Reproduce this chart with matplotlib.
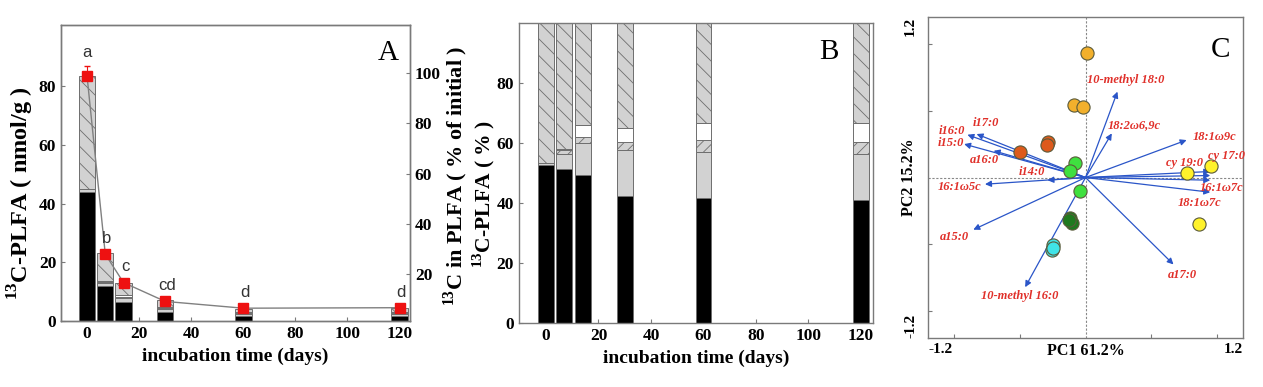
"""
13C-PLFA figure: (A) amount over incubation, (B) relative composition,
(C) PCA biplot of labelled PLFAs.
"""

import numpy as np
import matplotlib
matplotlib.use("Agg")
import matplotlib.pyplot as plt

plt.rcParams["font.family"] = ["Liberation Serif", "DejaVu Serif"]
plt.rcParams["mathtext.fontset"] = "custom"
plt.rcParams["mathtext.rm"] = "Liberation Serif"
plt.rcParams["mathtext.bf"] = "Liberation Serif:bold"
plt.rcParams["hatch.linewidth"] = 0.6

# ---- data ---------------------------------------------------------------
DAYS = [0, 7, 14, 30, 60, 120]

# panel A, nmol/g per group (bottom -> top)
a_black = [44.0, 11.8, 6.6, 3.0, 1.7, 1.8]
a_grey = [0.8, 1.2, 1.4, 1.1, 0.7, 0.7]
a_fwd = [0.0, 0.3, 0.3, 0.2, 0.2, 0.2]
a_white = [0.0, 0.2, 0.6, 0.4, 0.3, 0.3]
a_hatch = [38.7, 9.5, 4.1, 2.3, 1.2, 1.5]

# 13C in PLFA, % of initial (right axis)
pct_initial = [98.9, 28.0, 16.7, 9.2, 6.5, 6.7]
pct_err = [4.0, 0.8, 0.8, 0.6, 0.5, 0.5]
sig_letters = ["a", "b", "c", "cd", "d", "d"]

# panel B, % of 13C-PLFA
b_black = [52.6, 51.2, 49.4, 42.4, 41.6, 41.0]
b_grey = [0.6, 5.1, 10.7, 15.3, 15.5, 15.3]
b_fwd = [0.0, 1.2, 1.8, 2.7, 4.0, 3.9]
b_white = [0.0, 0.5, 4.1, 4.6, 5.6, 6.3]
b_hatch = [46.8, 42.0, 34.0, 35.0, 33.3, 33.5]

# panel C, PCA loadings
pc_names = ["10-methyl 18:0", "18:2\u03c96,9c", "18:1\u03c99c", "cy 17:0",
            "cy 19:0", "16:1\u03c97c", "18:1\u03c97c", "a17:0",
            "10-methyl 16:0", "a15:0", "16:1\u03c95c", "i14:0", "a16:0",
            "i15:0", "i16:0", "i17:0"]
pc1 = [0.243, 0.20, 0.77, 0.95, 0.95, 0.95, 0.95, 0.67,
       -0.46, -0.855, -0.766, -0.29, -0.70, -0.925, -0.90, -0.83]
pc2 = [0.642, 0.33, 0.28, 0.045, 0.015, -0.02, -0.11, -0.65,
       -0.82, -0.39, -0.05, -0.02, 0.20, 0.25, 0.32, 0.325]
lab_x = [0.01, 0.17, 0.82, 0.93, 0.61, 0.87, 0.70, 0.63,
         -0.80, -1.11, -1.13, -0.51, -0.88, -1.13, -1.12, -0.86]
lab_y = [0.73, 0.39, 0.30, 0.16, 0.11, -0.08, -0.19, -0.73,
         -0.885, -0.445, -0.07, 0.04, 0.13, 0.26, 0.35, 0.41]

# sample scores, by group
score_groups = {
    "#f2b02c": ([0.01, -0.09, -0.02], [0.93, 0.54, 0.525]),
    "#dd5a1c": ([-0.283, -0.296, -0.50], [0.268, 0.243, 0.193]),
    "#3fe03f": ([-0.08, -0.118, -0.042], [0.106, 0.051, -0.099]),
    "#1f7a1f": ([-0.118, -0.105, -0.125], [-0.305, -0.343, -0.32]),
    "#40e4e8": ([-0.245, -0.258, -0.25], [-0.505, -0.542, -0.525]),
    "#fff22a": ([0.954, 0.776, 0.865], [0.086, 0.036, -0.348]),
}

FRAME = "#7a7a7a"
EDGE = "#6e6e6e"
LIGHT = "#d2d2d2"


def style_frame(ax):
    for sp in ax.spines.values():
        sp.set_color(FRAME)
        sp.set_linewidth(1.0)
    ax.tick_params(direction="in", color=FRAME, length=3, width=0.8)


def stacked(ax, layers, width):
    bottom = np.zeros(len(DAYS))
    styles = [("black", None), (LIGHT, None), (LIGHT, "///"),
              ("white", None), (LIGHT, "\\\\")]
    for vals, (fc, hatch) in zip(layers, styles):
        ax.bar(DAYS, vals, width=width, bottom=bottom, color=fc,
               edgecolor=EDGE, linewidth=0.7, hatch=hatch, zorder=2)
        bottom += np.asarray(vals)


fig = plt.figure(figsize=(12.63, 3.87), dpi=100)
bold = dict(fontweight="bold")

# ---- panel A ------------------------------------------------------------
axA = fig.add_axes([0.0483, 0.1705, 0.2763, 0.765])
stacked(axA, [a_black, a_grey, a_fwd, a_white, a_hatch], 6.3)
axA.set_xlim(-10, 124)
axA.set_ylim(0, 100.8)
axA.set_yticks([0, 20, 40, 60, 80])
axA.set_xticks([0, 20, 40, 60, 80, 100, 120])
style_frame(axA)
axA.tick_params(labelsize=12.5)
for lbl in axA.get_xticklabels() + axA.get_yticklabels():
    lbl.set_fontweight("bold")
axA.set_xlabel("incubation time (days)", fontsize=14, **bold, labelpad=4)
axA.set_ylabel(r"$^{\mathbf{13}}$C-PLFA ( nmol/g )", fontsize=17.5, **bold)
axA.yaxis.set_label_coords(-0.072, 0.43)
axA.text(0.937, 0.905, "A", transform=axA.transAxes, fontsize=21,
         ha="center", va="center")

axA2 = axA.twinx()
axA2.set_ylim(1.4, 119.2)
axA2.set_yticks([20, 40, 60, 80, 100])
axA2.plot(DAYS, pct_initial, color="#808080", lw=1.0, zorder=3)
axA2.errorbar(DAYS, pct_initial, yerr=[np.zeros(6), pct_err], fmt="s",
              ms=6.5, color="#ee1111", ecolor="#ee1111", elinewidth=0.8,
              capsize=2, zorder=4)
for d, v, s in zip(DAYS, pct_initial, sig_letters):
    axA2.text(d + (0.6 if s != "a" else 0), v + (9.5 if s == "a" else 6.2), s,
              family="Liberation Sans", fontsize=12, color="#333333",
              ha="center", va="center")
style_frame(axA2)
axA2.tick_params(labelsize=12.5)
for lbl in axA2.get_yticklabels():
    lbl.set_fontweight("bold")
axA2.set_ylabel(r"$^{\mathbf{13}}$C in PLFA ( % of initial )", fontsize=16,
                **bold, rotation=90)
axA2.yaxis.set_label_coords(1.09, 0.49)

# ---- panel B ------------------------------------------------------------
axB = fig.add_axes([0.4109, 0.1654, 0.2803, 0.7752])
stacked(axB, [b_black, b_grey, b_fwd, b_white, b_hatch], 6.0)
axB.set_xlim(-10.3, 124.6)
axB.set_ylim(0, 100)
axB.set_yticks([0, 20, 40, 60, 80])
axB.set_xticks([0, 20, 40, 60, 80, 100, 120])
style_frame(axB)
axB.tick_params(labelsize=12.5)
for lbl in axB.get_xticklabels() + axB.get_yticklabels():
    lbl.set_fontweight("bold")
axB.set_xlabel("incubation time (days)", fontsize=14, **bold, labelpad=4)
axB.set_ylabel(r"$^{\mathbf{13}}$C-PLFA ( % )", fontsize=15.5, **bold)
axB.yaxis.set_label_coords(-0.063, 0.43)
axB.text(0.876, 0.903, "B", transform=axB.transAxes, fontsize=21,
         ha="center", va="center")

# ---- panel C ------------------------------------------------------------
axC = fig.add_axes([0.7348, 0.1266, 0.2494, 0.8294])
axC.set_xlim(-1.2, 1.2)
axC.set_ylim(-1.2, 1.2)
axC.axvline(0, color="#888888", lw=0.8, ls=(0, (2, 1.5)), zorder=1)
axC.axhline(0, color="#888888", lw=0.8, ls=(0, (2, 1.5)), zorder=1)
for x, y in zip(pc1, pc2):
    axC.annotate("", xy=(x, y), xytext=(0, 0),
                 arrowprops=dict(arrowstyle="-|>", color="#2a55c8", lw=0.9,
                                 mutation_scale=9, shrinkA=0, shrinkB=0),
                 zorder=2)
for name, x, y in zip(pc_names, lab_x, lab_y):
    axC.text(x, y, name, color="#e0302a", fontsize=9, fontweight="bold",
             fontstyle="italic", ha="left", va="center", zorder=4)
for col, (xs, ys) in score_groups.items():
    axC.scatter(xs, ys, s=90, c=col, edgecolors="#5a5a3a", linewidths=0.8,
                zorder=3)
style_frame(axC)
axC.set_xticks([-1.0, -0.5, 0.5, 1.0])
axC.set_yticks([-1.0, -0.5, 0.5, 1.0])
axC.tick_params(labelbottom=False, labelleft=False, length=3)
axC.text(0.0, -0.015, "-1.2", transform=axC.transAxes, ha="left", va="top",
         fontsize=11, **bold)
axC.text(1.0, -0.015, "1.2", transform=axC.transAxes, ha="right", va="top",
         fontsize=11, **bold)
axC.text(-0.035, 1.0, "1.2", transform=axC.transAxes, ha="right", va="top",
         rotation=90, fontsize=11, **bold)
axC.text(-0.035, 0.0, "-1.2", transform=axC.transAxes, ha="right",
         va="bottom", rotation=90, fontsize=11, **bold)
axC.text(0.5, -0.015, "PC1 61.2%", transform=axC.transAxes, ha="center",
         va="top", fontsize=11.5, **bold)
axC.text(-0.035, 0.5, "PC2 15.2%", transform=axC.transAxes, ha="right",
         va="center", rotation=90, fontsize=11.5, **bold)
axC.text(0.927, 0.897, "C", transform=axC.transAxes, fontsize=21,
         ha="center", va="center")

fig.savefig("out.png", dpi=100)
